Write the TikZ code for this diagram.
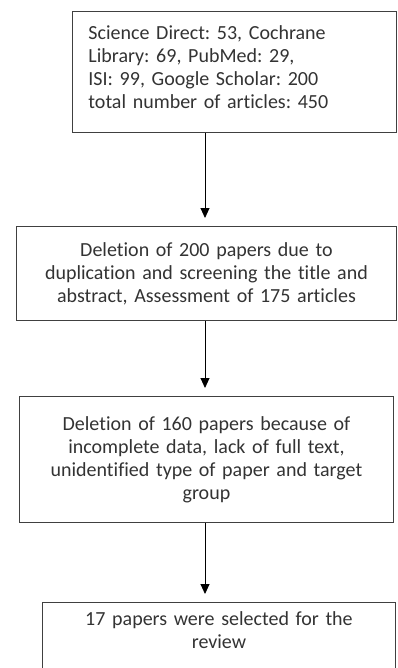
\documentclass[tikz,border=0pt]{standalone}
\usepackage{fontspec}
\setmainfont{Carlito}[Ligatures=NoCommon, Contextuals=NoAlternate]
\usetikzlibrary{arrows.meta}
\frenchspacing

\definecolor{boxgray}{HTML}{404040}
\definecolor{txtgray}{HTML}{333333}

\begin{document}
\begin{tikzpicture}[x=1pt, y=-1pt, >={Triangle[length=10pt,width=9pt]}, font=\fontsize{20}{23}\selectfont]
        \tikzstyle{block} = [rectangle, draw=boxgray, line width=0.9pt, text=txtgray,
                            inner xsep=5pt, inner ysep=14pt, anchor=north west]
        \tikzstyle{link} = [->, line width=0.9pt, draw=black, shorten >=8pt]
        \useasboundingbox (0,0) rectangle (397,668);

        % Boites
        \node[block, align=left, inner xsep=16pt, text width=292pt] (search) at (72,11)
            {Science Direct: 53, Cochrane\\Library: 69, PubMed: 29,\\ISI: 99, Google Scholar: 200\\total number of articles: 450\par\vspace{10pt}};
        \node[block, align=center, text width=370pt, minimum height=94pt] (screen) at (16,226)
            {Deletion of 200 papers due to\\duplication and screening the title and\\abstract, Assessment of 175 articles};
        \node[block, align=center, text width=364pt, minimum height=126pt] (fulltext) at (19,396)
            {Deletion of 160 papers because of\\incomplete data, lack of full text,\\unidentified type of paper and target\\group};
        \node[block, align=center, text width=343pt, inner ysep=9pt] (selected) at (42,602)
            {17 papers were selected for the\\review\par\vspace{40pt}};

        % Fleches
        \coordinate (axis) at (205,0);
        \draw[link] (search.south -| axis) -- (screen.north -| axis);
        \draw[link] (screen.south -| axis) -- (fulltext.north -| axis);
        \draw[link] (fulltext.south -| axis) -- (selected.north -| axis);
    \end{tikzpicture}
\end{document}
